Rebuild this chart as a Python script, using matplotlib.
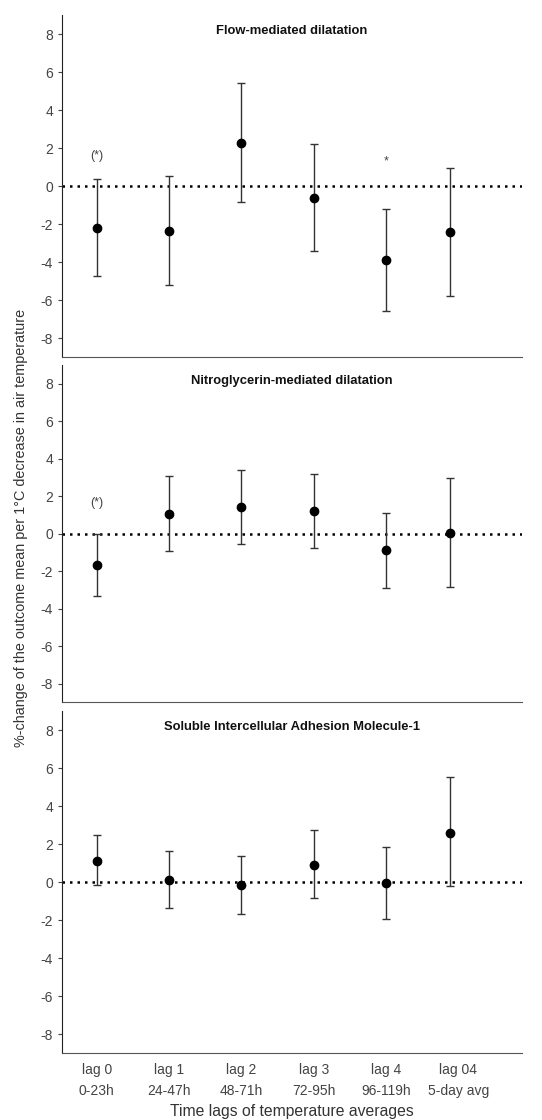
import matplotlib.pyplot as plt

plt.rcParams['font.family'] = ['Liberation Sans', 'DejaVu Sans']
plt.rcParams['axes.unicode_minus'] = False

lag_labels = ['lag 0\n0-23h', 'lag 1\n24-47h', 'lag 2\n48-71h', 'lag 3\n72-95h', 'lag 4\n96-119h', 'lag 04\n5-day avg']
label_pos = [1, 2, 3, 4, 5, 6]
point_pos = [1, 2, 3, 4, 5, 5.88]

titles = ['Flow-mediated dilatation', 'Nitroglycerin-mediated dilatation',
          'Soluble Intercellular Adhesion Molecule-1']

fmd_est = [-2.18, -2.35, 2.26, -0.61, -3.86, -2.42]
fmd_lo = [-4.70, -5.21, -0.86, -3.39, -6.54, -5.77]
fmd_hi = [0.35, 0.54, 5.42, 2.21, -1.19, 0.93]

nmd_est = [-1.67, 1.06, 1.40, 1.21, -0.89, 0.04]
nmd_lo = [-3.32, -0.94, -0.53, -0.76, -2.91, -2.85]
nmd_hi = [0.0, 3.07, 3.39, 3.16, 1.12, 2.96]

icam_est = [1.13, 0.10, -0.17, 0.91, -0.07, 2.61]
icam_lo = [-0.17, -1.38, -1.67, -0.84, -1.93, -0.23]
icam_hi = [2.46, 1.64, 1.38, 2.72, 1.83, 5.52]

# significance marks: (panel, x, y, text)
marks = [(0, 1, 1.6, '(*)'), (0, 5, 1.3, '*'), (1, 1, 1.65, '(*)')]

est = [fmd_est, nmd_est, icam_est]
lo = [fmd_lo, nmd_lo, icam_lo]
hi = [fmd_hi, nmd_hi, icam_hi]

fig = plt.figure(figsize=(5.42, 11.2), dpi=100)
boxes = [(0.681, 0.9866), (0.373, 0.674), (0.0598, 0.365)]
axes = []
for i, (b, t) in enumerate(boxes):
    ax = fig.add_axes([0.1144, b, 0.963 - 0.1144, t - b])
    axes.append(ax)
    e = est[i]
    yerr = [[e[k] - lo[i][k] for k in range(6)], [hi[i][k] - e[k] for k in range(6)]]
    ax.axhline(0, color='black', linestyle=(0, (1, 2)), linewidth=1.8, zorder=1)
    ax.errorbar(point_pos, e, yerr=yerr, fmt='o', color='black', ecolor='#333333',
                elinewidth=1, capsize=3, capthick=1, markersize=6, zorder=3)
    ax.set_ylim(-9, 9)
    ax.set_xlim(0.52, 6.88)
    ax.set_yticks(range(-8, 9, 2))
    ax.tick_params(axis='y', colors='#444444', labelsize=10, length=3, width=0.8)
    ax.text(0.5, 0.953, titles[i], transform=ax.transAxes, ha='center', va='center',
            fontsize=9.4, fontweight='bold', color='#111111')
    for s in ['top', 'right']:
        ax.spines[s].set_visible(False)
    ax.spines['left'].set_color('#222222')
    ax.spines['bottom'].set_color('#555555')
    if i < 2:
        ax.set_xticks([])
    else:
        ax.set_xticks(label_pos)
        ax.set_xticklabels(lag_labels, fontsize=10, color='#444444', linespacing=1.7)
        ax.tick_params(axis='x', length=0, pad=7)
        ax.set_xlabel('Time lags of temperature averages', fontsize=11.3, color='#333333', labelpad=4)

for p, x, y, s in marks:
    axes[p].text(x, y, s, ha='center', va='center', fontsize=9, color='#444444')

fig.text(0.039, 0.529, '%-change of the outcome mean per 1°C decrease in air temperature',
         rotation=90, ha='center', va='center', fontsize=10.4, color='#333333')

fig.savefig('out.png', dpi=100)
